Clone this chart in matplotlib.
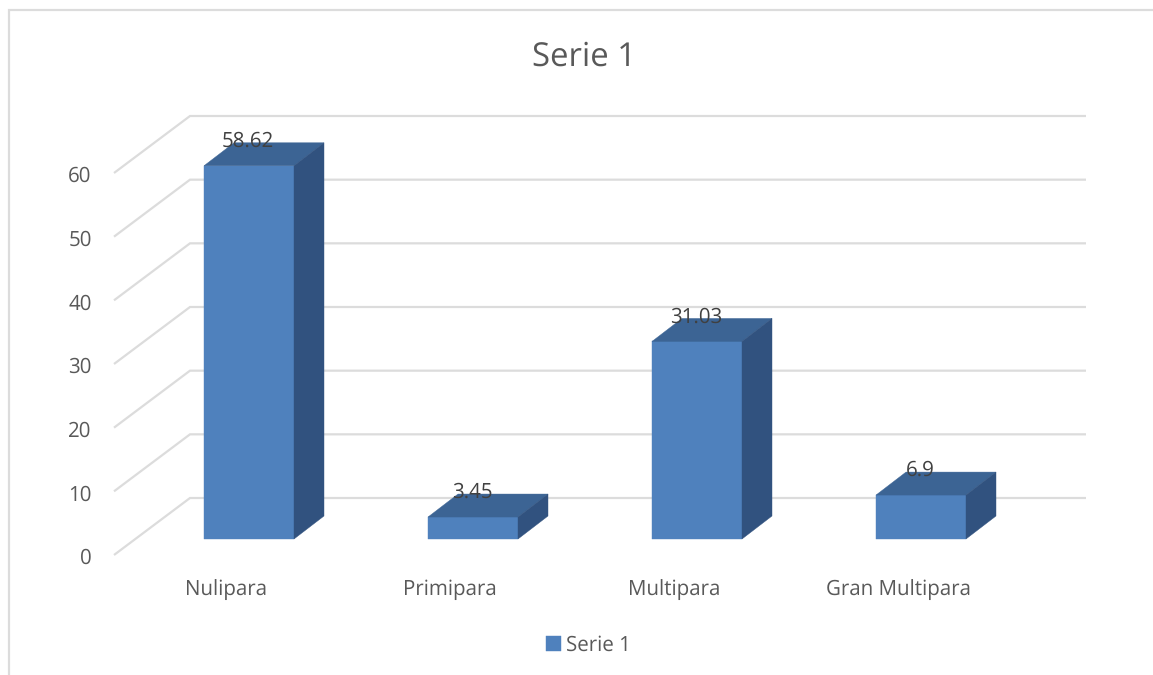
import matplotlib
matplotlib.use("Agg")
import matplotlib.pyplot as plt
from matplotlib.patches import Polygon, Rectangle
from matplotlib.transforms import Affine2D, ScaledTranslation

categories = ["Nulipara", "Primipara", "Multipara", "Gran Multipara"]
values = [58.62, 3.45, 31.03, 6.9]
value_labels = ["58.62", "3.45", "31.03", "6.9"]
y_ticks = [0, 10, 20, 30, 40, 50, 60]
series_name = "Serie 1"
title = "Serie 1"

W, H = 1153, 675
plt.rcParams["font.family"] = ["Open Sans", "DejaVu Sans"]
plt.rcParams["text.hinting"] = "no_hinting"
fig = plt.figure(figsize=(W / 100, H / 100), dpi=100, facecolor="white")

# plot box: the front floor edge, in pixels
L, R, B, T = 114, 1010, 555, 173
ax = fig.add_axes([L / W, 1 - B / H, (R - L) / W, (B - T) / H])
ax.set_xlim(-0.5, 3.5)
ax.set_ylim(0, 60)
ax.patch.set_alpha(0)
for s in ax.spines.values():
    s.set_visible(False)

px = 4 / (R - L)        # data x per pixel
py = 60 / (B - T)       # data y per pixel

GRID = "#DCDCDC"
FRONT, TOP, SIDE = "#4F81BD", "#3C6494", "#31527F"

# side wall diagonals and back wall gridlines
wall_dx, wall_dy = 76 * px, 57 * py
for v in y_ticks:
    ax.plot([-0.5, -0.5 + wall_dx, 3.5 + wall_dx],
            [v, v + wall_dy, v + wall_dy],
            color=GRID, lw=1.6, clip_on=False, zorder=1,
            solid_joinstyle="miter", solid_capstyle="butt")

# bars stand 23 px right of the labels and 16 px above the floor edge
shift_x, shift_y = 23 * px, 16 * py
depth_x, depth_y = 30 * px, 23 * py
width = 90 * px
bar_tf = ax.transData + Affine2D().translate(23, 16)
ax.bar(range(len(values)), values, width=width, color=FRONT,
       edgecolor=FRONT, linewidth=0.3,
       transform=bar_tf, clip_on=False, zorder=3, label=series_name)

for i, v in enumerate(values):
    l = i - width / 2 + shift_x
    r = i + width / 2 + shift_x
    y0 = shift_y
    y1 = v + shift_y
    ax.add_patch(Polygon([(l, y1), (r, y1), (r + depth_x, y1 + depth_y), (l + depth_x, y1 + depth_y)],
                         closed=True, fc=TOP, ec=TOP, lw=0.3, clip_on=False, zorder=3))
    ax.add_patch(Polygon([(r, y0), (r, y1), (r + depth_x, y1 + depth_y), (r + depth_x, y0 + depth_y)],
                         closed=True, fc=SIDE, ec=SIDE, lw=0.3, clip_on=False, zorder=3))
    ax.text(i + shift_x - 1 * px, y1 + 24.5 * py, value_labels[i], ha="center", va="center",
            fontsize=14.8, color="#404040", clip_on=False, zorder=5)

ax.set_xticks(range(len(categories)), categories)
ax.set_yticks(y_ticks)
ax.tick_params(axis="both", length=0, labelsize=14.8, labelcolor="#595959")
ax.tick_params(axis="y", pad=16)
ax.tick_params(axis="x", pad=17)
down = Affine2D().translate(0, -1)
for lab in ax.get_yticklabels():
    lab.set_transform(lab.get_transform() + down)

fig.text(584 / W, 1 - 57 / H, title, ha="center", va="center",
         fontsize=23.7, color="#595959")

leg = ax.legend(loc="center", bbox_to_anchor=(588.5 / W, 1 - 645.5 / H),
                bbox_transform=fig.transFigure, frameon=False, fontsize=14.8,
                handlelength=0.72, handleheight=0.72, handletextpad=0.25,
                labelcolor="#595959")

# chart area border (top and left only are in the crop)
fig.add_artist(Rectangle((8.5 / W, -0.1), 1.2, 1 + 0.1 - 10.5 / H, transform=fig.transFigure,
                         fc="none", ec=GRID, lw=1.6))

fig.savefig("out.png", dpi=100)
